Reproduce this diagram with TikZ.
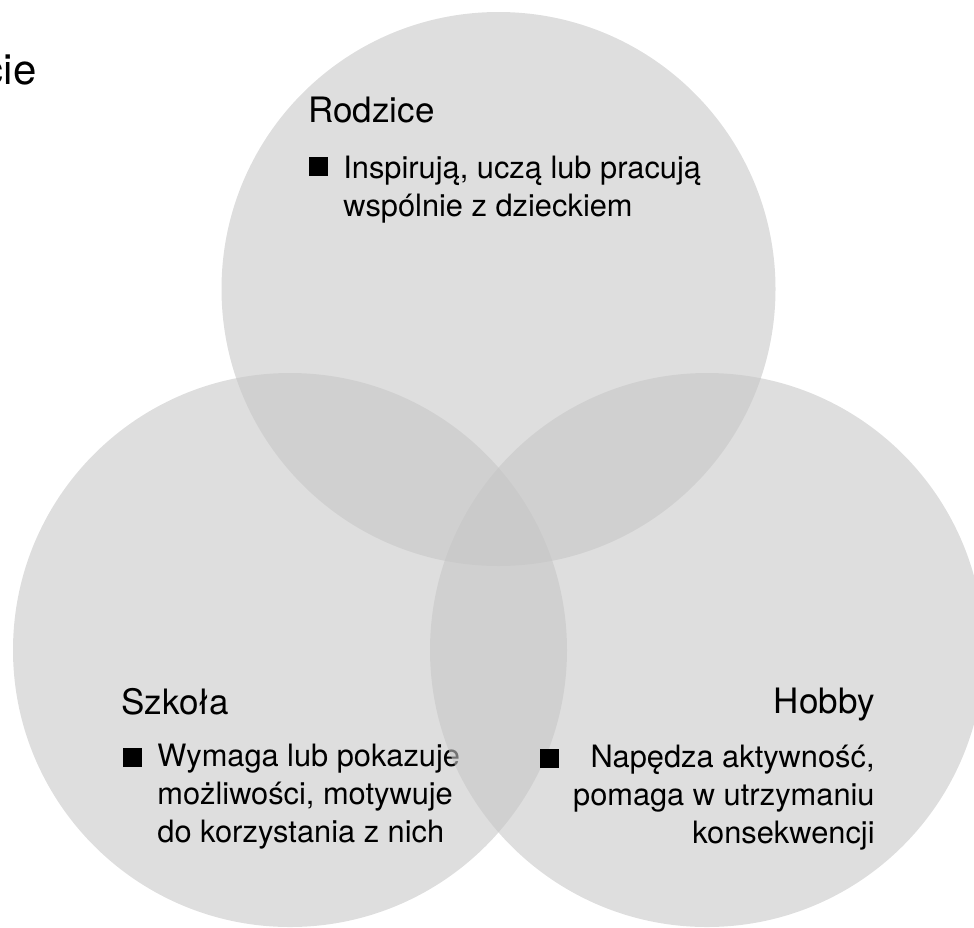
\documentclass[tikz,border=0pt]{standalone}
\usepackage{fontspec}
\setmainfont{TeX Gyre Heros}
\usepackage{tikz}
\usetikzlibrary{positioning}

\definecolor{venngray}{RGB}{198,198,198}
\tikzset{
  venn/.style={circle,fill=venngray,fill opacity=0.576,minimum size=277pt,inner sep=0pt},
  head/.style={inner sep=0pt,font=\fontsize{17.5}{21}\selectfont},
  body/.style={inner sep=0pt,font=\fontsize{15.4}{19}\selectfont},
  sq/.style={fill=black,minimum size=9.5pt,inner sep=0pt},
}

\begin{document}
\begin{tikzpicture}[x=0.5pt,y=-0.5pt]
  \useasboundingbox (0,0) rectangle (974,927);
  \clip (0,0) rectangle (974,927);
  \node (T) [anchor=base east,inner sep=0pt,font=\fontsize{21}{25}\selectfont] at (37,84) {cie};
  % Rodzice (base = last line)
  \node (R) [venn] at (498.5,289) {};
  \node (RH) [head,anchor=base west] at (308,122) {Rodzice};
  \node (RB) [sq] at (318.5,166) {};
  \node (RT) [body,anchor=base west,align=left] at (343,216) {Inspirują, uczą lub pracują\\wspólnie z dzieckiem};
  % Szkola
  \node (S) [venn] at (290,650) {};
  \node (SH) [head,anchor=base west] at (121,714) {Szkoła};
  \node (SB) [sq] at (132.5,757.5) {};
  \node (ST) [body,anchor=base west,align=left] at (157,842) {Wymaga lub pokazuje\\możliwości, motywuje\\do korzystania z nich};
  % Hobby
  \node (H) [venn] at (707,650) {};
  \node (HH) [head,anchor=base east] at (875,713) {Hobby};
  \node (HB) [sq] at (549.5,758.5) {};
  \node (HT) [body,anchor=base east,align=right] at (875,843) {Napędza aktywność,\\pomaga w utrzymaniu\\konsekwencji};
\end{tikzpicture}
\end{document}
